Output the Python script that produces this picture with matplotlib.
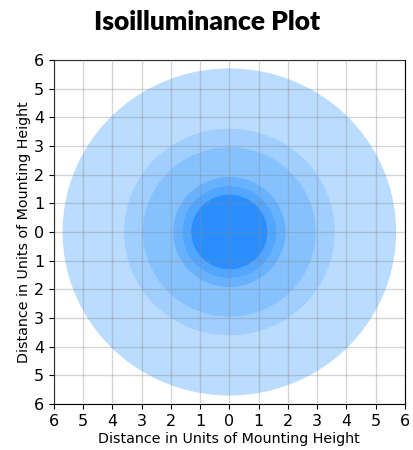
import matplotlib.pyplot as plt
from matplotlib.patches import Circle

# isolux contour radii (units of mounting height), outer to inner
radii = [5.7, 3.6, 2.95, 1.92, 1.6, 1.3]
colors = ['#b9dcff', '#9fceff', '#86c1ff', '#68b1ff', '#52a6ff', '#2b8eff']
ticks = [-6, -5, -4, -3, -2, -1, 0, 1, 2, 3, 4, 5, 6]
tick_labels = [str(abs(t)) for t in ticks]

fig = plt.figure(figsize=(4.14, 4.5), dpi=100)
ax = fig.add_axes([0.13, 0.102, 0.848, 0.765])

for r, c in zip(radii, colors):
	ax.add_patch(Circle((0, 0), r, facecolor=c, edgecolor='none', zorder=1))

ax.set_xlim(-6, 6)
ax.set_ylim(-6, 6)
ax.set_aspect('auto')
ax.set_xticks(ticks)
ax.set_yticks(ticks)
ax.set_xticklabels(tick_labels, fontsize=11.5)
ax.set_yticklabels(tick_labels, fontsize=11.5)
ax.grid(True, color='#888888', alpha=0.35, linewidth=1, zorder=2)
ax.set_axisbelow(False)

ax.set_xlabel('Distance in Units of Mounting Height', fontsize=10.3, labelpad=2)
ax.set_ylabel('Distance in Units of Mounting Height', fontsize=10.3, labelpad=2)
fig.suptitle('Isoilluminance Plot', fontsize=19, fontweight='heavy', family='Lato', y=0.978)

fig.savefig('out.png', dpi=100)
